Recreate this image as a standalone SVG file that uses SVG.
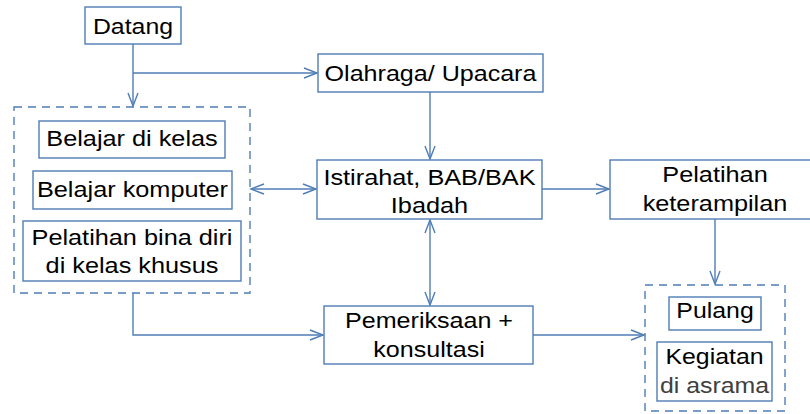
<svg xmlns="http://www.w3.org/2000/svg" width="810" height="414" viewBox="0 0 810 414">
<style>
.box{fill:#fff;stroke:#4f7db5;stroke-width:1.4}
.dash{fill:none;stroke:#4f7db5;stroke-width:1.4;stroke-dasharray:8 6}
.ln{fill:none;stroke:#4f7db5;stroke-width:1.4}
text{font-family:"Liberation Sans",Arial,sans-serif;font-size:22px;fill:#000;text-anchor:middle}
</style>
<defs>
<marker id="ah" markerUnits="userSpaceOnUse" viewBox="-14 -7 16 14" refX="0" refY="0" markerWidth="16" markerHeight="14" orient="auto-start-reverse">
<path d="M-13,-5 L0,0 L-13,5" fill="none" stroke="#4f7db5" stroke-width="1.4"/>
</marker>
</defs>
<rect width="810" height="414" fill="#fff"/>
<g id="connectors">
<path class="ln" d="M133,44 V106" marker-end="url(#ah)"/>
<path class="ln" d="M133,73 H317" marker-end="url(#ah)"/>
<path class="ln" d="M430,92 V159" marker-end="url(#ah)"/>
<path class="ln" d="M251,189 H316" marker-start="url(#ah)" marker-end="url(#ah)"/>
<path class="ln" d="M542,189 H609" marker-end="url(#ah)"/>
<path class="ln" d="M430,220 V305" marker-start="url(#ah)" marker-end="url(#ah)"/>
<path class="ln" d="M715,219 V284" marker-end="url(#ah)"/>
<path class="ln" d="M133,293 V335 H323" marker-end="url(#ah)"/>
<path class="ln" d="M533,335 H644" marker-end="url(#ah)"/>
</g>
<g id="datang">
<rect class="box" x="85" y="7" width="96" height="37"/>
<text transform="translate(133 34) scale(1.13 1)">Datang</text>
</g>
<g id="kelompok-belajar">
<rect class="dash" x="14" y="107" width="236" height="186"/>
<g id="belajar-kelas">
<rect class="box" x="39" y="121" width="186" height="37"/>
<text transform="translate(132 146) scale(1.15 1)">Belajar di kelas</text>
</g>
<g id="belajar-komputer">
<rect class="box" x="33" y="171" width="199" height="38"/>
<text transform="translate(132.5 197) scale(1.15 1)">Belajar komputer</text>
</g>
<g id="pelatihan-bina">
<rect class="box" x="23" y="221" width="218" height="60"/>
<text transform="translate(132 245) scale(1.15 1)">Pelatihan bina diri</text>
<text transform="translate(132 273) scale(1.15 1)">di kelas khusus</text>
</g>
</g>
<g id="olahraga">
<rect class="box" x="318" y="54" width="225" height="38"/>
<text transform="translate(430.5 81) scale(1.14 1)">Olahraga/ Upacara</text>
</g>
<g id="istirahat">
<rect class="box" x="317" y="160" width="225" height="59"/>
<text transform="translate(429.5 185) scale(1.15 1)">Istirahat, BAB/BAK</text>
<text transform="translate(429.5 213) scale(1.15 1)">Ibadah</text>
</g>
<g id="pelatihan-keterampilan">
<rect class="box" x="610" y="160" width="212" height="59"/>
<text transform="translate(715 182) scale(1.15 1)">Pelatihan</text>
<text transform="translate(715 211) scale(1.15 1)">keterampilan</text>
</g>
<g id="pemeriksaan">
<rect class="box" x="324" y="306" width="209" height="58"/>
<text transform="translate(429 328) scale(1.14 1)">Pemeriksaan +</text>
<text transform="translate(429 357) scale(1.14 1)">konsultasi</text>
</g>
<g id="kelompok-akhir">
<rect class="dash" x="645" y="285" width="140" height="126"/>
<g id="pulang">
<rect class="box" x="669" y="297" width="92" height="33"/>
<text transform="translate(715 318) scale(1.13 1)">Pulang</text>
</g>
<g id="kegiatan-asrama">
<rect class="box" x="657" y="342" width="115" height="59"/>
<text transform="translate(714.5 364) scale(1.13 1)">Kegiatan</text>
<text transform="translate(714.5 393) scale(1.13 1)" style="fill:#404040">di asrama</text>
</g>
</g>
</svg>
